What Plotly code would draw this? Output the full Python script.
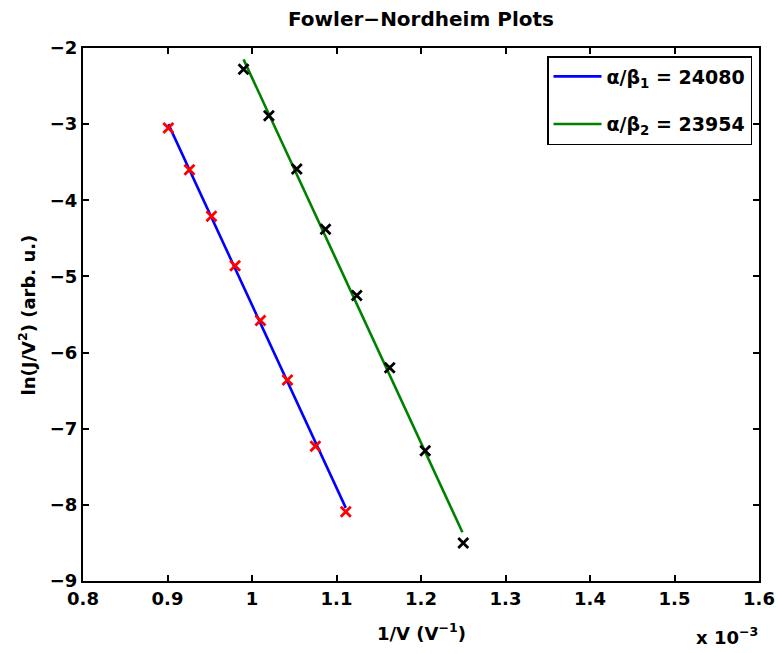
import plotly.graph_objects as go

# 1/V values in units of 1e-3 V^-1, ln(J/V^2) values
x_set1 = [0.901, 0.926, 0.952, 0.980, 1.010, 1.042, 1.075, 1.111]
y_set1 = [-3.05, -3.60, -4.21, -4.86, -5.58, -6.36, -7.23, -8.09]
x_set2 = [0.990, 1.020, 1.053, 1.087, 1.124, 1.163, 1.205, 1.250]
y_set2 = [-2.28, -2.89, -3.59, -4.38, -5.25, -6.20, -7.29, -8.50]

# fitted lines (end points)
fit1_x = [0.901, 1.111]
fit1_y = [-3.00, -8.04]
fit2_x = [0.990, 1.249]
fit2_y = [-2.15, -8.36]

legend_labels = ["α/β<sub>1</sub> = 24080", "α/β<sub>2</sub> = 23954"]

x_ticks = [0.8, 0.9, 1.0, 1.1, 1.2, 1.3, 1.4, 1.5, 1.6]
y_ticks = [-9, -8, -7, -6, -5, -4, -3, -2]

FONT = "DejaVu Sans"
FS = 18

W, H = 778, 653
ML, MT, MR, MB = 83, 48, 19, 72
PW, PH = W - ML - MR, H - MT - MB

fig = go.Figure()
fig.add_trace(go.Scatter(x=fit1_x, y=fit1_y, mode="lines", name=legend_labels[0],
                         legendgroup="a",
                         line=dict(color="#0000FF", width=2.6)))
fig.add_trace(go.Scatter(x=fit2_x, y=fit2_y, mode="lines", name=legend_labels[1],
                         legendgroup="b",
                         line=dict(color="#008000", width=2.6)))
fig.add_trace(go.Scatter(x=x_set1, y=y_set1, mode="markers", showlegend=False,
                         marker=dict(symbol="x-thin", size=10,
                                     line=dict(color="#FF0000", width=2.8))))
fig.add_trace(go.Scatter(x=x_set2, y=y_set2, mode="markers", showlegend=False,
                         marker=dict(symbol="x-thin", size=10,
                                     line=dict(color="#000000", width=2.8))))

axis_common = dict(
    showgrid=False, zeroline=False, showline=True, linecolor="black", linewidth=2,
    mirror="ticks", ticks="inside", ticklen=6, tickwidth=2, tickcolor="black",
    automargin=False,
    tickfont=dict(family=FONT, size=FS, color="black", weight="bold"),
)

fig.update_layout(
    width=W, height=H,
    paper_bgcolor="white", plot_bgcolor="white",
    margin=dict(l=ML, r=MR, t=MT, b=MB),
    font=dict(family=FONT, color="black"),
    title=dict(text="<b>Fowler−Nordheim Plots</b>", xref="paper", x=0.5, xanchor="center",
               yref="container", y=1 - 19 / H, yanchor="middle",
               font=dict(family=FONT, size=20, color="black")),
    xaxis=dict(range=[0.8, 1.6], tickvals=x_ticks,
               ticktext=[f"{v:g}" for v in x_ticks], **axis_common),
    yaxis=dict(range=[-9, -2], tickvals=y_ticks,
               ticktext=[f"−{abs(v)}" for v in y_ticks], **axis_common),
    legend=dict(x=(752 - ML) / PW, xanchor="right", y=1 - (56 - MT) / PH, yanchor="top",
                bgcolor="white", bordercolor="black", borderwidth=1.5,
                font=dict(family=FONT, size=19, color="black", weight="bold"),
                itemwidth=48, tracegroupgap=20),
    showlegend=True,
)

fig.add_annotation(text="<b>1/V (V<sup>−1</sup>)</b>", xref="paper", yref="paper",
                   x=0.5, y=-(632 - 581) / PH, xanchor="center", yanchor="middle",
                   showarrow=False, font=dict(family=FONT, size=FS, color="black"))
fig.add_annotation(text="<b>ln(J/V<sup>2</sup>) (arb. u.)</b>", xref="paper", yref="paper",
                   x=-(83 - 27) / PW, y=0.5, xanchor="center", yanchor="middle",
                   textangle=-90,
                   showarrow=False, font=dict(family=FONT, size=FS, color="black"))
fig.add_annotation(text="<b>x 10<sup>−3</sup></b>", xref="paper", yref="paper",
                   x=1.0 + 1 / PW, y=-(636 - 581) / PH, xanchor="right", yanchor="middle",
                   showarrow=False, font=dict(family=FONT, size=FS, color="black"))

# remove the default page margin so the figure fills the 778x653 window exactly
fig.write_html(
    "out.html",
    config={"displayModeBar": False},
    post_script="document.body.style.margin='0';document.body.style.overflow='hidden';",
)
